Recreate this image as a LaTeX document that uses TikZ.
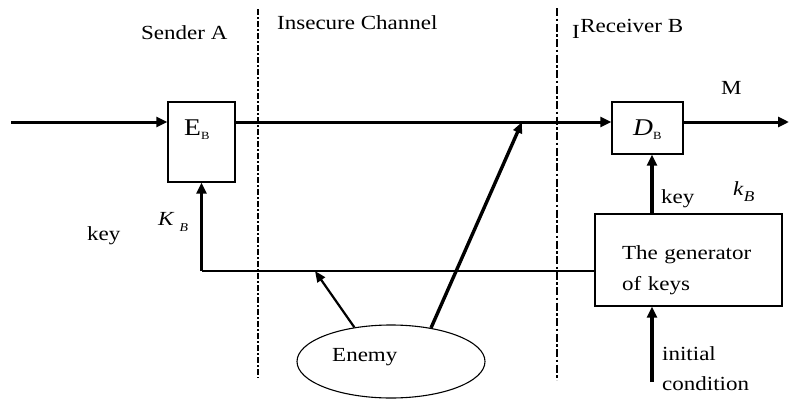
\documentclass[tikz,border=0pt]{standalone}
\usepackage{fontspec}
\setmainfont{Liberation Serif}[FakeStretch=1.15]
\usetikzlibrary{arrows.meta,shapes.geometric}

\begin{document}
\begin{tikzpicture}[x=1pt,y=-1pt,
  every node/.style={font=\fontsize{20}{24}\selectfont},
  txt/.style={anchor=base west, inner sep=0pt},
  blk/.style={draw, line width=1.3pt, inner sep=0pt},
  sig/.style={line width=3pt, -{Triangle[length=11pt,width=10pt]}},
  tap/.style={-{Triangle[length=11pt,width=9pt]}},
  keyline/.style={line width=1.4pt},
  sepA/.style={line width=2.8pt, dash pattern=on 6pt off 2pt on 2pt off 2pt},
  sepB/.style={line width=1.5pt, dash pattern=on 8pt off 2.5pt on 2.5pt off 2.5pt}]

\fill[white] (0,0) rectangle (790,399);
\useasboundingbox (0,0) rectangle (790,399);

% zone separators
\coordinate (sa0) at (258,9);   \coordinate (sa1) at (258,378);
\coordinate (sb0) at (557,8);   \coordinate (sb1) at (557,380);
\draw[sepA] (sa0) -- (sa1);
\draw[sepB] (sb0) -- (sb1);

% zone titles
\node[txt] (sender)   at (141,39) {Sender A};
\node[txt] (channel)  at (277,29) {Insecure Channel};
\node[txt] (receiver) at (572,32) {\raisebox{-6pt}{I}\kern0.5pt Receiver B};

% encryption and decryption blocks
\node[blk, minimum width=67, minimum height=80] (eb) at (201.5,142) {};
\node[txt] (ebl) at (184,135) {\fontsize{24}{24}\selectfont E\raisebox{-4pt}{\fontsize{11}{11}\selectfont B}};
\node[blk, minimum width=71, minimum height=52] (db) at (647.5,128) {};
\node[txt] (dbl) at (633,135) {\fontsize{24}{24}\selectfont\textit{D}\raisebox{-4pt}{\fontsize{11}{11}\selectfont B}};

% key generator
\node[blk, minimum width=187, minimum height=92, align=left, text width=133pt,
      inner xsep=27pt, text depth=14pt, font=\fontsize{20}{31}\selectfont]
      (gen) at (688.5,260) {The generator\\of keys};

% enemy
\node[draw, ellipse, line width=1.1pt, minimum width=188, minimum height=73,
      inner sep=0pt] (enemy) at (391,361.5) {};
\node[txt] (enemyl) at (332,361) {Enemy};

% other labels
\node[txt] (msg)  at (721,94)  {M};
\node[txt] (keyr) at (661,203) {key};
\node[txt] (kbr)  at (733,195) {\textit{k}\raisebox{-6pt}{\fontsize{15}{15}\selectfont\textit{B}}};
\node[txt] (keyl) at (87,240)  {key};
\node[txt] (kbl)  at (158,225) {\textit{K}\kern5pt\raisebox{-6pt}{\fontsize{12}{12}\selectfont\textit{B}}};
\node[txt] (init) at (662,360) {initial};
\node[txt] (cond) at (662,390) {condition};

% message path
\coordinate (src)  at (11,122);
\coordinate (sink) at (789,122);
\draw[sig] (src) -- (src -| eb.west);
\draw[sig] (eb.east |- src) -- (db.west |- src);
\draw[sig] (db.east |- src) -- (sink);

% key distribution
\coordinate (kx)  at (652,0);
\coordinate (ic0) at (652,382);
\coordinate (kl)  at (0,271);
\draw[sig, line width=3.4pt] (gen.north -| kx) -- (db.south -| kx);
\draw[sig, line width=3.4pt] (ic0) -- (ic0 |- gen.south);
\draw[keyline] (gen.west |- kl) -- (eb.south |- kl);
\draw[sig, line width=3.4pt] (eb.south |- kl) -- (eb.south);

% enemy taps
\coordinate (tapA) at (315,271);
\coordinate (tapB) at (522,122);
\draw[tap, line width=2.2pt] (enemy.137) -- (tapA);
\draw[tap, line width=3.4pt] (enemy.40) -- (tapB);
\end{tikzpicture}
\end{document}
